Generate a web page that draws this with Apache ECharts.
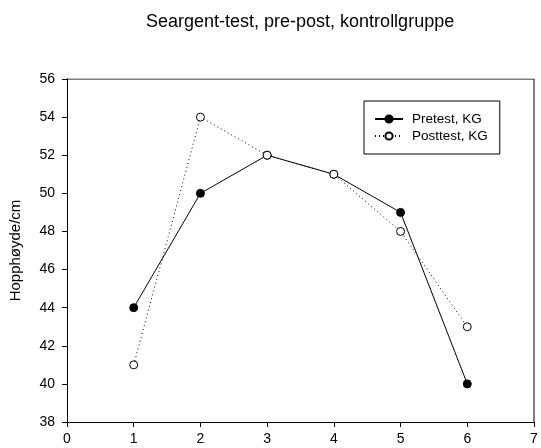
<!DOCTYPE html>
<html>
<head>
<meta charset="utf-8">
<script src="https://cdn.jsdelivr.net/npm/echarts@6/dist/echarts.min.js"></script>
<style>
  html, body { margin: 0; padding: 0; background: #fff; }
  #chart { width: 541px; height: 448px; }
</style>
</head>
<body>
<div id="chart"></div>
<script>
const testNr = [1, 2, 3, 4, 5, 6];
const pretest = [44, 50, 52, 51, 49, 40];
const posttest = [41, 54, 52, 51, 48, 43];

const font = 'Liberation Sans, Arial, sans-serif';
let chart = echarts.init(document.getElementById('chart'));

let option = {
  animation: false,
  title: {
    text: 'Seargent-test, pre-post, kontrollgruppe',
    left: 141,
    top: 8,
    textStyle: { fontFamily: font, fontSize: 18, fontWeight: 'normal', color: '#000' }
  },
  legend: {
    orient: 'vertical',
    left: 364,
    top: 101,
    padding: [11, 12, 11, 10],
    itemGap: 3,
    itemWidth: 28,
    itemHeight: 9,
    borderColor: '#000',
    borderWidth: 1,
    textStyle: { fontFamily: font, fontSize: 13.5, color: '#000', padding: [0, 0, 0, 4], lineHeight: 14 },
    data: ['Pretest, KG', 'Posttest, KG']
  },
  grid: { left: 65, right: 7, top: 79, bottom: 26 },
  xAxis: {
    type: 'value',
    min: 0,
    max: 7,
    interval: 1,
    axisLine: { onZero: false, lineStyle: { color: '#000', width: 1 } },
    axisTick: { show: true, length: 5, lineStyle: { color: '#000' } },
    axisLabel: { fontFamily: font, fontSize: 14, color: '#000', margin: 10 },
    splitLine: { show: false }
  },
  yAxis: {
    type: 'value',
    name: 'Hopphøyde/cm',
    nameLocation: 'middle',
    nameGap: 44,
    nameTextStyle: { fontFamily: font, fontSize: 15, color: '#000' },
    min: 38,
    max: 56,
    interval: 2,
    axisLine: { show: true, lineStyle: { color: '#000', width: 1 } },
    axisTick: { show: true, length: 5, lineStyle: { color: '#000' } },
    axisLabel: { fontFamily: font, fontSize: 14, color: '#000', margin: 12 },
    splitLine: { show: false }
  },
  series: [
    {
      name: 'Pretest, KG',
      type: 'line',
      data: testNr.map((x, i) => [x, pretest[i]]),
      symbol: 'circle',
      symbolSize: 8,
      lineStyle: { color: '#000', width: 1 },
      itemStyle: { color: '#000', borderColor: '#000', borderWidth: 1 },
      z: 3
    },
    {
      name: 'Posttest, KG',
      type: 'line',
      data: testNr.map((x, i) => [x, posttest[i]]),
      symbol: 'circle',
      symbolSize: 8,
      lineStyle: { color: '#000', width: 1, type: [1, 3] },
      itemStyle: { color: '#fff', borderColor: '#000', borderWidth: 1 },
      z: 4
    },
    {
      // top and right frame of the plot box
      type: 'line',
      data: [[0, 56], [7, 56], [7, 38]],
      symbol: 'none',
      silent: true,
      lineStyle: { color: '#000', width: 1 },
      z: 1
    }
  ]
};
chart.setOption(option);
</script>
</body>
</html>
